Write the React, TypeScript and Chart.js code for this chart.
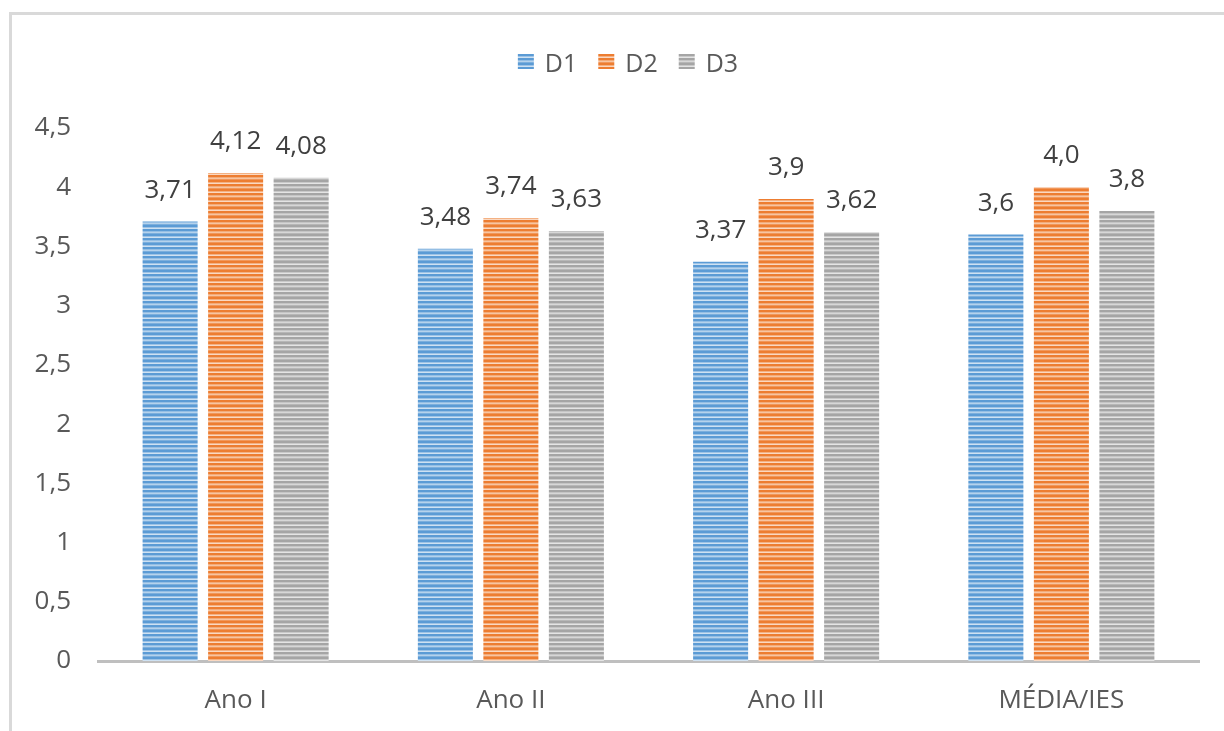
import { useEffect, useRef } from "react";
import { Chart, registerables } from "chart.js";

Chart.register(...registerables);

const categories = ["Ano I", "Ano II", "Ano III", "MÉDIA/IES"];
const seriesNames = ["D1", "D2", "D3"];
const d1Values = [3.71, 3.48, 3.37, 3.6];
const d2Values = [4.12, 3.74, 3.9, 4.0];
const d3Values = [4.08, 3.63, 3.62, 3.8];
const d1Labels = ["3,71", "3,48", "3,37", "3,6"];
const d2Labels = ["4,12", "3,74", "3,9", "4,0"];
const d3Labels = ["4,08", "3,63", "3,62", "3,8"];
const yMin = 0;
const yMax = 4.5;
const yStep = 0.5;

const seriesColors = ["#5b9bd5", "#ed7d31", "#a5a5a5"];
const FONT = "'Open Sans', 'Noto Sans', sans-serif";

function mix(hex: string, t: number): string {
  const n = parseInt(hex.slice(1), 16);
  const r = (n >> 16) & 255, g = (n >> 8) & 255, b = n & 255;
  const f = (c: number) => Math.round(c + (255 - c) * t);
  return `rgb(${f(r)},${f(g)},${f(b)})`;
}

function makePattern(color: string): CanvasPattern | string {
  const c = document.createElement("canvas");
  c.width = 8;
  c.height = 9;
  const ctx = c.getContext("2d");
  if (!ctx) return color;
  const rows = [color, color, mix(color, 0.4), mix(color, 0.7), color, color, mix(color, 0.35), mix(color, 0.55), mix(color, 0.2)];
  rows.forEach((col, i) => {
    ctx.fillStyle = col;
    ctx.fillRect(0, i, 8, 1);
  });
  return ctx.createPattern(c, "repeat") || color;
}

export default function App() {
  const ref = useRef<HTMLCanvasElement | null>(null);

  useEffect(() => {
    const canvas = ref.current;
    if (!canvas) return;
    const patterns = seriesColors.map((c) => makePattern(c));
    const values = [d1Values, d2Values, d3Values];
    const labels = [d1Labels, d2Labels, d3Labels];

    const overlay = {
      id: "overlay",
      afterDatasetsDraw(chart: any) {
        const ctx = chart.ctx;
        ctx.save();
        ctx.font = `26px ${FONT}`;
        ctx.fillStyle = "#404040";
        ctx.textAlign = "center";
        ctx.textBaseline = "alphabetic";
        chart.data.datasets.forEach((_: any, di: number) => {
          const meta = chart.getDatasetMeta(di);
          meta.data.forEach((el: any, i: number) => {
            ctx.fillText(labels[di][i], el.x, el.y - 24);
          });
        });
        ctx.restore();
      },
      afterDraw(chart: any) {
        const ctx = chart.ctx;
        ctx.save();
        ctx.font = `25px ${FONT}`;
        const boxW = 16, boxH = 15, gap = 11, spacing = 21;
        const widths = seriesNames.map((s) => ctx.measureText(s).width);
        const total = widths.reduce((a: number, w: number) => a + boxW + gap + w, 0) + spacing * (seriesNames.length - 1);
        let x = 628 - total / 2;
        seriesNames.forEach((name, i) => {
          ctx.fillStyle = patterns[i];
          ctx.fillRect(x, 54, boxW, boxH);
          x += boxW + gap;
          ctx.fillStyle = "#595959";
          ctx.textAlign = "left";
          ctx.textBaseline = "alphabetic";
          ctx.fillText(name, x, 72);
          x += widths[i] + spacing;
        });
        ctx.restore();
      },
    };

    const chart = new Chart(canvas, {
      type: "bar",
      data: {
        labels: categories,
        datasets: seriesNames.map((name, i) => ({
          label: name,
          data: values[i],
          backgroundColor: patterns[i] as any,
          borderWidth: 0,
          categoryPercentage: 0.714,
          barPercentage: 0.84,
        })),
      },
      options: {
        responsive: false,
        animation: false,
        layout: { padding: { top: 128, right: 25, bottom: 0, left: 0 } },
        plugins: {
          legend: { display: false },
          tooltip: { enabled: false },
        },
        scales: {
          x: {
            grid: { display: false, drawTicks: false },
            border: { display: true, color: "#bfbfbf", width: 3 },
            ticks: { color: "#595959", font: { family: FONT, size: 26 }, padding: 24 },
            afterFit: (s: any) => {
              s.height = 70;
            },
          },
          y: {
            min: yMin,
            max: yMax,
            grid: { display: false, drawTicks: false },
            border: { display: false },
            ticks: {
              stepSize: yStep,
              color: "#595959",
              font: { family: FONT, size: 26 },
              padding: 27,
              callback: (v: any) => String(v).replace(".", ","),
            },
            afterFit: (s: any) => {
              s.width = 98;
            },
          },
        },
      },
      plugins: [overlay],
    });
    return () => chart.destroy();
  }, []);

  return (
    <div style={{ position: "fixed", left: 0, top: 0, width: 1224, height: 731, overflow: "hidden", background: "#ffffff" }}>
      <div
        style={{
          position: "absolute",
          left: 9,
          top: 12,
          width: 1300,
          height: 800,
          border: "3px solid #d9d9d9",
          boxSizing: "border-box",
        }}
      />
      <canvas
        ref={ref}
        width={1224}
        height={731}
        style={{ position: "absolute", left: 0, top: 0, width: 1224, height: 731 }}
      />
    </div>
  );
}
